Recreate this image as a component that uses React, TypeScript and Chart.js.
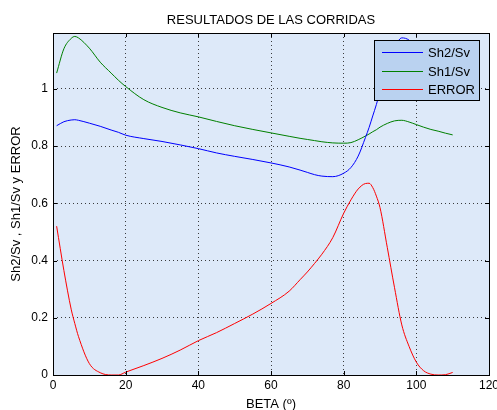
import React, { useEffect, useRef } from "react";
import { Chart, registerables } from "chart.js";

Chart.register(...registerables);

const betaValues = [1, 3, 5, 6, 7, 10, 13, 16, 18, 20, 25, 30, 35, 40, 45, 50, 55, 60, 65, 68, 70, 72, 74, 77, 80, 82, 84, 86, 87, 88, 89, 90, 92, 94, 96, 98, 100, 102, 104, 106, 108, 110];
const sh2SvValues = [0.871, 0.885, 0.891, 0.892, 0.89, 0.88, 0.869, 0.856, 0.848, 0.838, 0.826, 0.816, 0.804, 0.791, 0.776, 0.764, 0.753, 0.741, 0.727, 0.716, 0.708, 0.7, 0.695, 0.693, 0.705, 0.725, 0.765, 0.83, 0.865, 0.905, 0.945, 0.99, 1.07, 1.14, 1.178, 1.17, 1.14, 1.1, 1.07, 1.04, 1.02, 1.0];
const sh1SvValues = [1.055, 1.14, 1.176, 1.183, 1.178, 1.142, 1.093, 1.055, 1.03, 1.008, 0.962, 0.935, 0.916, 0.902, 0.886, 0.871, 0.858, 0.846, 0.834, 0.827, 0.823, 0.819, 0.815, 0.811, 0.81, 0.812, 0.822, 0.835, 0.842, 0.85, 0.857, 0.866, 0.879, 0.888, 0.89, 0.884, 0.875, 0.866, 0.858, 0.852, 0.845, 0.839];
const errorValues = [0.52, 0.365, 0.23, 0.18, 0.135, 0.04, 0.008, 0.0, 0.0, 0.01, 0.033, 0.058, 0.087, 0.12, 0.148, 0.18, 0.213, 0.25, 0.293, 0.333, 0.36, 0.39, 0.422, 0.48, 0.565, 0.612, 0.65, 0.669, 0.67, 0.655, 0.625, 0.585, 0.446, 0.305, 0.175, 0.1, 0.045, 0.015, 0.003, 0.0, 0.001, 0.009];

const seriesLabels = ["Sh2/Sv", "Sh1/Sv", "ERROR"];
const seriesColors = ["#0000ff", "#008000", "#ff0000"];
const xTickValues = [0, 20, 40, 60, 80, 100, 120];
const yTickValues = [0, 0.2, 0.4, 0.6, 0.8, 1];
const titleText = "RESULTADOS DE LAS CORRIDAS";
const xTitleText = "BETA (º)";
const yTitleText = "Sh2/Sv , Sh1/Sv y ERROR";

const FONT = "'Liberation Sans', Arial, sans-serif";

export default function App() {
  const canvasRef = useRef<HTMLCanvasElement | null>(null);

  useEffect(() => {
    const canvas = canvasRef.current;
    if (!canvas) return;
    const seriesValues = [sh2SvValues, sh1SvValues, errorValues];

    const decor = {
      id: "matlabDecor",
      beforeDraw(chart: any) {
        const { ctx, chartArea: a } = chart;
        ctx.save();
        ctx.fillStyle = "#ffffff";
        ctx.fillRect(0, 0, chart.width, chart.height);
        ctx.fillStyle = "#dde9f9";
        ctx.fillRect(a.left, a.top, a.right - a.left, a.bottom - a.top);
        ctx.restore();
      },
      afterDraw(chart: any) {
        const { ctx, chartArea: a, scales } = chart;
        ctx.save();
        ctx.strokeStyle = "#000";
        ctx.lineWidth = 1;
        ctx.setLineDash([]);
        ctx.strokeRect(a.left + 0.5, a.top + 0.5, a.right - a.left, a.bottom - a.top);
        const tl = 4;
        ctx.beginPath();
        for (const v of xTickValues) {
          const x = Math.round(scales.x.getPixelForValue(v)) + 0.5;
          ctx.moveTo(x, a.bottom);
          ctx.lineTo(x, a.bottom - tl);
          ctx.moveTo(x, a.top);
          ctx.lineTo(x, a.top + tl);
        }
        for (const v of yTickValues) {
          const y = Math.round(scales.y.getPixelForValue(v)) + 0.5;
          ctx.moveTo(a.left, y);
          ctx.lineTo(a.left + tl, y);
          ctx.moveTo(a.right, y);
          ctx.lineTo(a.right - tl, y);
        }
        ctx.stroke();

        ctx.fillStyle = "#000";
        ctx.font = `13px ${FONT}`;
        ctx.textAlign = "center";
        ctx.textBaseline = "alphabetic";
        const cx = (a.left + a.right) / 2;
        ctx.fillText(titleText, cx, 23.5);
        ctx.fillText(xTitleText, cx, 407.5);
        ctx.save();
        ctx.translate(20, (a.top + a.bottom) / 2);
        ctx.rotate(-Math.PI / 2);
        ctx.fillText(yTitleText, 0, 0);
        ctx.restore();

        const lx = 374, ly = 40, lw = 105, lh = 60;
        ctx.fillStyle = "#bad2f0";
        ctx.fillRect(lx, ly, lw, lh);
        ctx.strokeStyle = "#000";
        ctx.strokeRect(lx + 0.5, ly + 0.5, lw, lh);
        const rows = [52.5, 71.5, 89.5];
        chart.data.datasets.forEach((ds: any, i: number) => {
          ctx.beginPath();
          ctx.strokeStyle = seriesColors[i];
          ctx.lineWidth = 1;
          ctx.moveTo(382, rows[i]);
          ctx.lineTo(423, rows[i]);
          ctx.stroke();
          ctx.fillStyle = "#000";
          ctx.textAlign = "left";
          ctx.textBaseline = "middle";
          ctx.font = `13px ${FONT}`;
          ctx.fillText(ds.label, 428, rows[i] + 1);
        });
        ctx.restore();
      },
    };

    const chart = new Chart(canvas, {
      type: "line",
      data: {
        datasets: seriesLabels.map((label, i) => ({
          label,
          data: betaValues.map((b, j) => ({ x: b, y: seriesValues[i][j] })),
          borderColor: seriesColors[i],
          backgroundColor: seriesColors[i],
          borderWidth: 1,
          pointRadius: 0,
          fill: false,
          cubicInterpolationMode: "monotone" as const,
        })),
      },
      options: {
        animation: false,
        responsive: false,
        layout: { padding: { top: 33, right: 8, left: 0, bottom: 0 } },
        plugins: {
          legend: { display: false },
          title: { display: false },
          tooltip: { enabled: false },
        },
        scales: {
          x: {
            type: "linear",
            min: 0,
            max: 120,
            afterBuildTicks: (s: any) => {
              s.ticks = xTickValues.map((v) => ({ value: v }));
            },
            ticks: {
              color: "#000",
              font: { family: FONT, size: 12 },
              padding: 3,
              maxRotation: 0,
              autoSkip: false,
              callback: (v: any) => String(v),
            },
            grid: { color: "rgba(40,40,40,0.9)", lineWidth: 1, drawTicks: false },
            border: { display: false, dash: [1, 3] },
            afterFit: (s: any) => {
              s.height = 35;
              s.paddingLeft = 0;
              s.paddingRight = 0;
            },
          },
          y: {
            type: "linear",
            min: 0,
            max: 1.195,
            afterBuildTicks: (s: any) => {
              s.ticks = yTickValues.map((v) => ({ value: v }));
            },
            ticks: {
              color: "#000",
              font: { family: FONT, size: 12 },
              padding: 5,
              autoSkip: false,
              callback: (v: any) => String(Number(Number(v).toFixed(1))),
            },
            grid: { color: "rgba(40,40,40,0.9)", lineWidth: 1, drawTicks: false },
            border: { display: false, dash: [1, 3] },
            afterFit: (s: any) => {
              s.width = 53;
              s.paddingTop = 0;
              s.paddingBottom = 0;
            },
          },
        },
      },
      plugins: [decor],
    });
    return () => chart.destroy();
  }, []);

  return (
    <div style={{ position: "absolute", left: 0, top: 0, width: 497, height: 410 }}>
      <canvas ref={canvasRef} width={497} height={410} style={{ display: "block" }} />
    </div>
  );
}
